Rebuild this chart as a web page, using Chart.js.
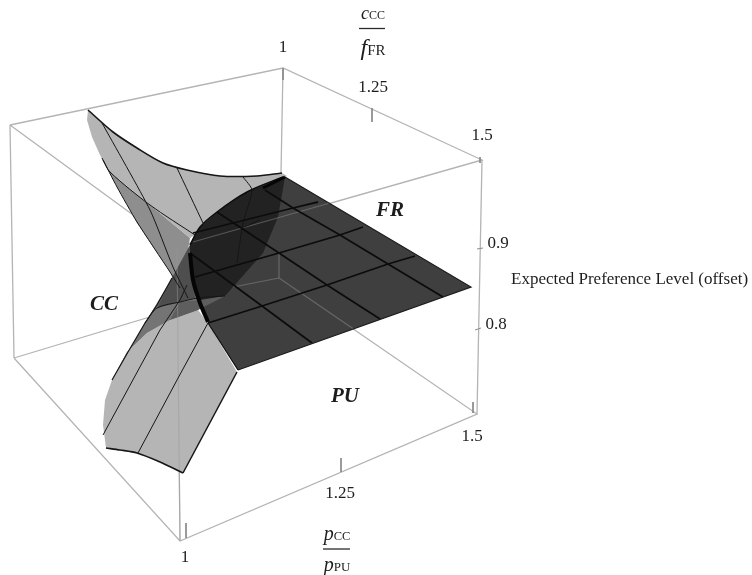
<!DOCTYPE html>
<html>
<head>
<meta charset="utf-8">
<title>Expected Preference Level</title>
<script src="https://cdn.jsdelivr.net/npm/chart.js@4"></script>
<style>
  html, body { margin: 0; padding: 0; background: #fff; }
</style>
</head>
<body>
<canvas id="surfaceChart" width="752" height="575"></canvas>
<script>
const boxTop = [[10,125],[283,68],[482,160],[177,247],[10,125]];
const boxBottom = [[14,358],[279,278],[477,414],[180,541],[14,358]];
const boxLeftEdge = [[10,125],[14,358]];
const boxBackEdge = [[283,68],[279,278]];
const boxRightEdge = [[482,160],[477,414]];
const boxFrontEdge = [[177,247],[180,541]];

const ticks = [
  [[283,68],[283,80]], [[372,108],[372,122]], [[480,157],[480,163]],
  [[477,249],[483,248]], [[475,330],[481,328]],
  [[186,523],[186,538]], [[341,458],[341,472]], [[473,402],[473,413]]
];

const tickLabels = ["1", "1.25", "1.5", "0.9", "0.8", "1", "1.25", "1.5"];
const tickLabelX = [283, 373, 482, 498, 496, 185, 340, 472];
const tickLabelY = [48, 88, 136, 244, 325, 558, 494, 437];

// upper wing of the CC sheet
const upperFold = [[100,155],[110,172],[150,205],[190,238],[186,262],[178,290],[170,272],[137,223],[117,187]];
const upperWing = [[88,110],[113,132],[137,148],[163,163],[187,170],[220,176],[257,176],[282,173],[287,176],[240,200],[195,235],[190,238],[150,205],[110,172],[100,155],[92,137],[87,120]];
const upperEdge = [[88,110],[113,132],[137,148],[163,163],[187,170],[220,176],[257,176],[282,173]];
const upperLeftEdge = [[102,158],[117,187],[137,222],[170,272],[180,288]];
const upperCurve = [[103,160],[110,172],[150,205],[195,235]];
const upperMesh = [
  [[102,123],[150,210],[173,267],[188,298]],
  [[177,168],[203,223]],
  [[243,177],[252,190],[243,223],[237,263]],
  [[242,228],[260,220]]
];

// lower wing of the CC sheet
const lowerWing = [[237,372],[183,473],[160,462],[137,453],[120,450],[106,448],[103,425],[105,400],[112,380],[127,352],[147,333],[170,320],[198,310],[208,323]];
const lowerBand = [[112,380],[128,352],[145,323],[172,278],[190,245],[200,303],[198,310],[170,320],[147,333],[127,352]];
const lowerBandDark = [[172,278],[190,245],[195,298],[180,302],[157,308]];
const lowerEdgeLeft = [[112,380],[128,352],[145,323],[157,305],[172,278]];
const lowerCurve = [[145,323],[157,308],[180,302],[198,298],[225,296]];
const lowerEdgeBottom = [[106,448],[120,450],[137,453],[160,462],[183,473]];
const lowerEdgeRight = [[183,473],[237,372]];
const lowerMesh = [
  [[103,435],[160,330],[180,300],[187,285]],
  [[138,453],[177,380],[208,323]]
];

// FR sheet and the part of it seen through the CC sheet
const frSheet = [[285,177],[471,287],[238,370],[208,323],[200,303],[193,280],[190,253],[190,245],[200,227],[217,212],[247,192]];
const frOverlap = [[190,245],[200,227],[217,212],[247,192],[285,177],[278,217],[263,253],[225,296],[200,303],[193,280],[190,253]];
const frBand = [[170,320],[198,310],[225,296],[200,300],[180,302]];
const frMeshAcross = [
  [[208,323],[262,306],[327,285],[388,264],[415,256]],
  [[195,277],[279,253],[340,235],[363,227]],
  [[193,233],[217,227],[293,208],[318,202]]
];
const frMeshDown = [
  [[190,253],[262,306],[312,343]],
  [[217,212],[279,253],[327,285],[380,319]],
  [[265,190],[293,208],[340,235],[388,264],[443,297]]
];
const frEdge = [[238,370],[471,287],[285,177]];
const frArc = [[190,245],[200,227],[217,212],[247,192],[283,177]];
const frCrease = [[190,253],[193,280],[200,303],[208,322]];
const frCreaseTop = [[263,188],[285,177]];
const frSeam = [[208,323],[238,370]];

const seeThroughWires = [
  [[177,247],[180,541]], [[279,253],[279,278]], [[233,287],[279,278]],
  [[193,242],[330,203]], [[279,278],[355,330]]
];

const toPoints = pts => pts.map(p => ({ x: p[0], y: p[1] }));
const datasets = [];

function addPolygon(pts, color) {
  datasets.push({ data: toPoints(pts), fill: "shape", backgroundColor: color, borderWidth: 0, pointRadius: 0, tension: 0 });
}
function addLine(pts, color, width, tension) {
  datasets.push({ data: toPoints(pts), fill: false, borderColor: color, borderWidth: width, pointRadius: 0, tension: tension || 0 });
}

const wireColor = "#b4b4b4";
const inkColor = "#161616";

[boxTop, boxBottom, boxLeftEdge, boxBackEdge, boxRightEdge, boxFrontEdge].forEach(e => addLine(e, wireColor, 1.3));
ticks.forEach(t => addLine(t, "#8c8c8c", 1));

addPolygon(upperFold, "#8e8e8e");
addPolygon(upperWing, "#b5b5b5");
addPolygon(lowerWing, "#b5b5b5");
addPolygon(lowerBand, "#747474");
addPolygon(lowerBandDark, "#4e4e4e");
addPolygon(frSheet, "#3f3f3f");
addPolygon(frOverlap, "#222222");
addPolygon(frBand, "#5e5e5e");

seeThroughWires.forEach(w => addLine(w, "rgba(150,150,150,0.45)", 1.2));

addLine(upperEdge, inkColor, 1.6, 0.3);
addLine(upperLeftEdge, inkColor, 1, 0.2);
addLine(upperCurve, inkColor, 1, 0.3);
upperMesh.forEach(l => addLine(l, inkColor, 1, 0.2));
addLine(lowerEdgeLeft, inkColor, 1.2);
addLine(lowerCurve, inkColor, 1, 0.3);
addLine(lowerEdgeBottom, inkColor, 1.7, 0.3);
addLine(lowerEdgeRight, inkColor, 1.5);
lowerMesh.forEach(l => addLine(l, inkColor, 1));

frMeshAcross.forEach(l => addLine(l, "#0c0c0c", 1.8));
frMeshDown.forEach(l => addLine(l, "#0c0c0c", 1.8));
addLine(frEdge, "#1c1c1c", 1.2);
addLine(frArc, "#0c0c0c", 1.5, 0.3);
addLine(frSeam, "#0c0c0c", 1.2);
addLine(frCrease, "#050505", 4, 0.3);
addLine(frCreaseTop, "#050505", 3);

// later entries sit on top
datasets.forEach((d, i) => { d.order = datasets.length - i; });

const serif = '"Liberation Serif", serif';

// [text, style, size] runs for the two stacked axis titles
const fractionLabels = [
  { x: 373, y: 14, runs: [["c", "italic", 18], ["CC", "", 12]] },
  { x: 373, y: 50, runs: [["f", "italic", 24], ["FR", "", 15]] },
  { x: 337, y: 535, runs: [["p", "italic", 20], ["CC", "", 12.5]] },
  { x: 337, y: 566, runs: [["p", "italic", 20], ["PU", "", 13]] }
];
const fractionBars = [[359, 385, 28.5], [323, 350, 549]];
const regionLabels = ["FR", "CC", "PU"];
const regionLabelX = [390, 104, 345];
const regionLabelY = [211, 305, 397];
const zAxisTitle = "Expected Preference Level (offset)";

const textPlugin = {
  id: "textPlugin",
  afterDraw(chart) {
    const { ctx, scales: { x, y } } = chart;
    ctx.save();
    ctx.fillStyle = "#1d1d1d";
    ctx.textBaseline = "middle";
    ctx.textAlign = "center";

    ctx.font = "17px " + serif;
    tickLabels.forEach((t, i) => ctx.fillText(t, x.getPixelForValue(tickLabelX[i]), y.getPixelForValue(tickLabelY[i])));

    ctx.font = "italic bold 21px " + serif;
    regionLabels.forEach((t, i) => ctx.fillText(t, x.getPixelForValue(regionLabelX[i]), y.getPixelForValue(regionLabelY[i])));

    ctx.textAlign = "left";
    ctx.font = "17px " + serif;
    ctx.fillText(zAxisTitle, x.getPixelForValue(511), y.getPixelForValue(280));

    fractionLabels.forEach(label => {
      const width = label.runs.reduce((sum, r) => {
        ctx.font = r[1] + " " + r[2] + "px " + serif;
        return sum + ctx.measureText(r[0]).width;
      }, 0);
      let px = x.getPixelForValue(label.x) - width / 2;
      label.runs.forEach(r => {
        ctx.font = r[1] + " " + r[2] + "px " + serif;
        ctx.textBaseline = "alphabetic";
        ctx.fillText(r[0], px, y.getPixelForValue(label.y) + 5);
        px += ctx.measureText(r[0]).width;
      });
    });

    ctx.strokeStyle = "#2a2a2a";
    ctx.lineWidth = 1.3;
    fractionBars.forEach(b => {
      ctx.beginPath();
      ctx.moveTo(x.getPixelForValue(b[0]), y.getPixelForValue(b[2]));
      ctx.lineTo(x.getPixelForValue(b[1]), y.getPixelForValue(b[2]));
      ctx.stroke();
    });
    ctx.restore();
  }
};

new Chart(document.getElementById("surfaceChart").getContext("2d"), {
  type: "scatter",
  data: { datasets: datasets.map(d => ({ ...d, showLine: true })) },
  options: {
    responsive: false,
    animation: false,
    layout: { padding: 0 },
    plugins: { legend: { display: false }, tooltip: { enabled: false } },
    scales: {
      x: { type: "linear", min: 0, max: 752, display: false },
      y: { type: "linear", min: 0, max: 575, reverse: true, display: false }
    }
  },
  plugins: [textPlugin]
});
</script>
</body>
</html>
